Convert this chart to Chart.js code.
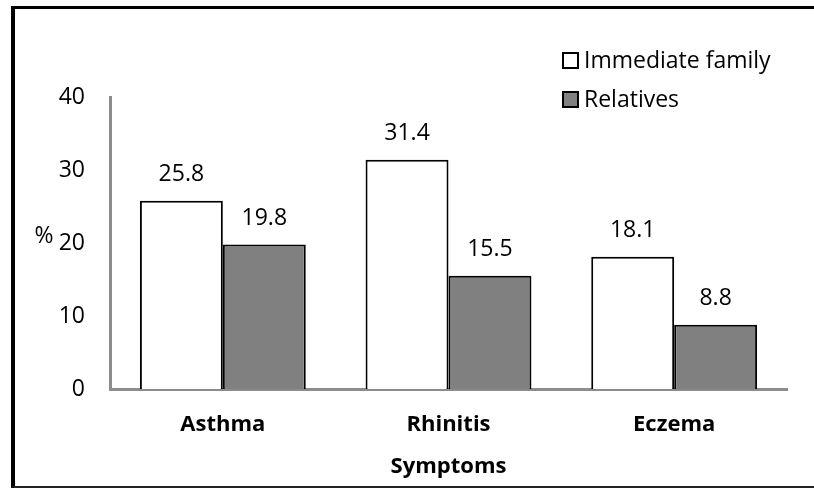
<!DOCTYPE html>
<html>
<head>
<meta charset="utf-8">
<script src="https://cdn.jsdelivr.net/npm/chart.js@4.4.0/dist/chart.umd.min.js"></script>
<style>
  body { margin: 0; background: #fff; }
  #wrap { position: relative; width: 814px; height: 489px; }
  #frame {
    position: absolute; left: 11px; top: 6px; width: 803px; height: 477px;
    border-left: 4px solid #000; border-top: 3px solid #000; border-bottom: 2px solid #222;
    pointer-events: none;
  }
  canvas { position: absolute; left: 0; top: 0; }
</style>
</head>
<body>
<div id="wrap">
  <canvas id="barChart" width="814" height="489"></canvas>
  <div id="frame"></div>
</div>
<script>
var categories = ['Asthma', 'Rhinitis', 'Eczema'];
var immediateFamily = [25.8, 31.4, 18.1];
var relatives = [19.8, 15.5, 8.8];
var yTicks = [0, 10, 20, 30, 40];

var FONT = '"Open Sans", sans-serif';

// value labels, legend and the unrotated "%" title
var extras = {
    id: 'extras',
    afterDatasetsDraw: function(chart) {
        var ctx = chart.ctx;
        ctx.save();
        ctx.font = '23px ' + FONT;
        ctx.fillStyle = '#000';
        ctx.textAlign = 'center';
        ctx.textBaseline = 'middle';
        chart.data.datasets.forEach(function(ds, i) {
            chart.getDatasetMeta(i).data.forEach(function(el, j) {
                ctx.fillText(ds.data[j].toFixed(1), el.x, el.y - 26);
            });
        });

        ctx.fillText('%', 44, 236);

        // legend
        ctx.textAlign = 'left';
        ctx.lineWidth = 2;
        ctx.strokeStyle = '#000';
        chart.data.datasets.forEach(function(ds, i) {
            var y = 61 + i * 39;
            ctx.fillStyle = ds.backgroundColor;
            ctx.fillRect(563, y - 8, 15, 15);
            ctx.strokeRect(563, y - 8, 15, 15);
            ctx.fillStyle = '#000';
            ctx.fillText(ds.label, 584, y);
        });
        ctx.restore();
    }
};

var chart = new Chart(document.getElementById('barChart'), {
    type: 'bar',
    data: {
        labels: categories,
        datasets: [
            {
                label: 'Immediate family',
                data: immediateFamily,
                backgroundColor: '#ffffff',
                borderColor: '#000000',
                borderWidth: 2
            },
            {
                label: 'Relatives',
                data: relatives,
                backgroundColor: '#808080',
                borderColor: '#000000',
                borderWidth: 2
            }
        ]
    },
    options: {
        responsive: false,
        animation: false,
        events: [],
        layout: { padding: { top: 97, right: 27, bottom: 0, left: 0 } },
        datasets: { bar: { categoryPercentage: 0.735, barPercentage: 1 } },
        plugins: { legend: { display: false }, tooltip: { enabled: false } },
        scales: {
            x: {
                grid: { display: false, drawTicks: false },
                border: { display: true, color: '#8c8c8c', width: 3 },
                ticks: { color: '#000', font: { family: FONT, size: 22, weight: 'bold' }, padding: 23 },
                title: {
                    display: true, text: 'Symptoms', color: '#000',
                    font: { family: FONT, size: 22, weight: 'bold' },
                    padding: { top: 0, bottom: 9 }
                },
                afterFit: function(s) { s.height = 100; }
            },
            y: {
                min: 0, max: 40,
                grid: { display: false, drawTicks: false },
                border: { display: true, color: '#8c8c8c', width: 3 },
                afterBuildTicks: function(s) { s.ticks = yTicks.map(function(v) { return { value: v }; }); },
                ticks: { color: '#000', font: { family: FONT, size: 23 }, padding: 25 },
                afterFit: function(s) { s.width = 110; }
            }
        }
    },
    plugins: [extras]
});
</script>
</body>
</html>
